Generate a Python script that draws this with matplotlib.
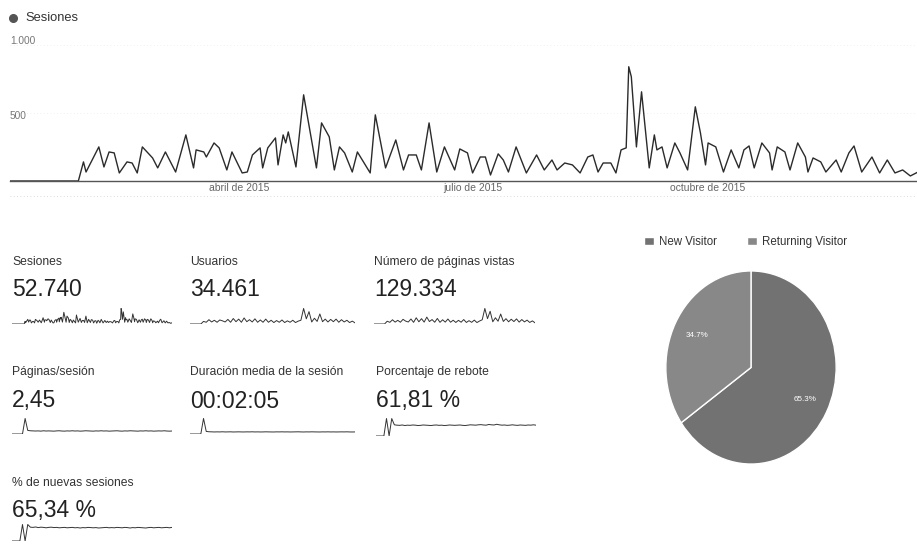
import numpy as np
import pandas as pd
import matplotlib
matplotlib.use('Agg')
import matplotlib.pyplot as plt
from matplotlib.lines import Line2D

plt.rcParams['font.family'] = ['Liberation Sans', 'DejaVu Sans']

# Sesiones diarias 2015 (dia del año, valor)
sess_day = [1, 28, 30, 31, 36, 38, 40, 42, 44, 47, 49, 51, 53, 57, 59, 62, 66, 70, 73, 74,
            77, 78, 81, 83, 86, 88, 92, 94, 96, 99, 100, 102, 105, 106, 108, 109, 110, 113, 116, 121,
            123, 126, 128, 130, 132, 135, 137, 142, 144, 148, 152, 155, 157, 160, 162, 165, 168, 171, 175, 177,
            180, 182, 185, 187, 189, 192, 194, 196, 199, 203, 207, 210, 213, 215, 218, 221, 224, 227, 229, 231,
            233, 236, 238, 240, 242, 243, 244, 246, 248, 251, 253, 254, 256, 258, 261, 263, 266, 269, 271, 273,
            274, 277, 280, 283, 286, 288, 290, 292, 295, 298, 299, 301, 304, 306, 309, 312, 313, 315, 318, 320,
            324, 326, 329, 331, 334, 338, 341, 344, 347, 350, 353, 356]
sess_val = [0, 0, 140, 66, 250, 103, 213, 206, 59, 140, 132, 59, 250, 169, 96, 213, 66, 338, 96, 228,
            213, 176, 279, 243, 81, 213, 59, 66, 191, 243, 96, 243, 316, 118, 338, 279, 360, 103, 632, 96,
            426, 324, 81, 250, 206, 66, 213, 59, 485, 96, 301, 81, 191, 191, 81, 426, 66, 250, 81, 235,
            206, 59, 176, 176, 44, 199, 154, 66, 250, 59, 191, 81, 154, 81, 132, 118, 59, 176, 191, 66,
            132, 132, 59, 228, 243, 838, 765, 250, 654, 96, 338, 228, 250, 96, 279, 206, 81, 544, 353, 118,
            279, 250, 66, 228, 96, 228, 257, 96, 279, 206, 81, 250, 213, 81, 279, 176, 66, 169, 140, 66,
            154, 66, 206, 257, 66, 176, 59, 154, 59, 81, 37, 66]

month_ticks = ['2015-04-01', '2015-07-01', '2015-10-01']
month_labels = ['abril de 2015', 'julio de 2015', 'octubre de 2015']

# sparklines (valores aproximados, ~semanales)
users_spark = [0, 0, 0, 0, 0, 90, 60, 150, 70, 130, 60, 140, 110, 70, 160, 60, 190, 80, 170, 60,
               210, 80, 150, 70, 180, 60, 140, 60, 170, 60, 130, 50, 120, 60, 140, 50, 110, 60, 130, 50,
               100, 130, 540, 180, 430, 70, 200, 90, 350, 80, 170, 70, 160, 80, 170, 60, 150, 70, 130, 50,
               100, 40]
pv_spark = [0, 0, 0, 0, 0, 250, 150, 380, 170, 330, 160, 420, 260, 180, 450, 150, 560, 200, 480, 170,
            620, 220, 400, 160, 500, 150, 380, 170, 450, 160, 340, 140, 330, 160, 400, 140, 300, 150, 350, 130,
            270, 380, 1400, 480, 1150, 200, 560, 250, 900, 230, 480, 200, 430, 220, 460, 170, 400, 190, 350, 140,
            280, 110]
pps_spark = [0, 0, 0, 0, 0, 12.5, 2.9, 2.6, 2.5, 2.4, 2.5, 2.3, 2.6, 2.4, 2.5, 2.4, 2.3, 2.5, 2.6, 2.4,
             2.3, 2.5, 2.4, 2.6, 2.4, 2.5, 2.3, 2.4, 2.6, 2.5, 2.4, 2.3, 2.5, 2.4, 2.6, 2.4, 2.5, 2.3, 2.4, 2.5,
             2.6, 2.4, 2.3, 2.5, 2.4, 2.6, 2.5, 2.4, 2.3, 2.5, 2.4, 2.6, 2.4, 2.5, 2.3, 2.4, 2.5, 2.4, 2.6, 2.4,
             2.3, 2.4]
dur_spark = [0, 0, 0, 0, 0, 900, 150, 130, 125, 118, 124, 120, 128, 119, 122, 126, 117, 121, 125, 120,
             118, 124, 121, 127, 119, 123, 118, 120, 126, 122, 119, 117, 124, 121, 126, 120, 123, 118, 120, 124,
             127, 121, 117, 123, 120, 126, 122, 119, 117, 123, 120, 125, 119, 122, 118, 120, 124, 121, 126, 119,
             117, 120]
bounce_spark = [0, 0, 0, 0, 100, 0, 100, 64, 62, 61, 63, 60, 62, 61, 63, 62, 60, 61, 63, 62,
                61, 60, 62, 63, 61, 62, 60, 61, 63, 62, 61, 62, 63, 61, 60, 62, 64, 63, 62, 64,
                65, 63, 62, 66, 64, 63, 67, 64, 62, 63, 61, 62, 64, 62, 61, 63, 62, 61, 63, 62,
                64, 62]
newsess_spark = [0, 0, 0, 0, 80, 0, 80, 67, 66, 68, 65, 67, 66, 64, 66, 67, 65, 66, 64, 65,
                 66, 64, 65, 66, 64, 65, 63, 65, 64, 66, 65, 64, 65, 63, 64, 65, 66, 64, 65, 64,
                 66, 65, 64, 66, 65, 63, 65, 64, 66, 65, 64, 63, 65, 66, 64, 65, 66, 64, 65, 66,
                 64, 66]

pie_labels = ['New Visitor', 'Returning Visitor']
pie_vals = [65.3, 34.7]

W, H = 917, 544
fig = plt.figure(figsize=(W / 100, H / 100), dpi=100)
fig.patch.set_facecolor('white')


def box(x0, y0, x1, y1):
    # pixel box measured from the top-left corner -> figure fraction
    return [x0 / W, 1 - y1 / H, (x1 - x0) / W, (y1 - y0) / H]


def fy(y):
    return 1 - y / H


# ---- main line chart ----
t0 = pd.Timestamp('2015-01-01')
dates = t0 + pd.to_timedelta(np.array(sess_day) - 1, unit='D')

ax = fig.add_axes(box(10, 31, 917, 181))
ax.plot(dates, sess_val, color='#2b2b2b', lw=1.0)
ax.set_xlim(t0 + pd.Timedelta(days=0.3), t0 + pd.Timedelta(days=354.6))
ax.set_ylim(0, 1100)
for s in ['top', 'right', 'left']:
    ax.spines[s].set_visible(False)
ax.spines['bottom'].set_color('#555555')
ax.spines['bottom'].set_linewidth(1.0)
ax.set_yticks([])
for v in [500, 1000]:
    ax.axhline(v, color='#ececec', lw=0.6, ls=(0, (1, 3)), zorder=0)
ax.text(0.0, 1030, '1.000', transform=ax.get_yaxis_transform(), fontsize=7.3,
        color='#777777', va='center', ha='left')
ax.text(0.0, 480, '500', transform=ax.get_yaxis_transform(), fontsize=7.3,
        color='#777777', va='center', ha='left')
ax.set_xticks(pd.to_datetime(month_ticks))
ax.set_xticklabels(month_labels, fontsize=7.5, color='#666666')
ax.tick_params(axis='x', length=0, pad=1.5)

fig.add_artist(Line2D([10 / W, 1], [fy(196), fy(196)], color='#cfcfcf', lw=0.6,
                      ls=(0, (1, 3))))

# legend of the line chart
fig.add_artist(Line2D([13 / W], [fy(18)], marker='o', markersize=5.5, color='#555555',
                      markeredgecolor='#555555'))
fig.text(25 / W, fy(18), 'Sesiones', fontsize=9.3, color='#333333', va='center', ha='left')

# ---- scorecards ----
cards = [
    ('Sesiones', '52.740', sess_val, 12, 172, 262, 290, 308, 324, True),
    ('Usuarios', '34.461', users_spark, 190, 355, 262, 290, 308, 324, False),
    ('Número de páginas vistas', '129.334', pv_spark, 374, 535, 262, 290, 308, 324, False),
    ('Páginas/sesión', '2,45', pps_spark, 12, 172, 372, 401, 418, 434, False),
    ('Duración media de la sesión', '00:02:05', dur_spark, 190, 355, 372, 401, 418, 434, False),
    ('Porcentaje de rebote', '61,81 %', bounce_spark, 376, 536, 372, 401, 418, 436, False),
    ('% de nuevas sesiones', '65,34 %', newsess_spark, 12, 172, 483, 511, 524, 541, False),
]

for title, value, spark, x0, x1, ty, vy, sy0, sy1, use_days in cards:
    fig.text(x0 / W, fy(ty), title, fontsize=8.7, color='#333333', va='center', ha='left')
    fig.text(x0 / W, fy(vy), value, fontsize=16.5, color='#222222', va='center', ha='left')
    sax = fig.add_axes(box(x0, sy0, x1, sy1))
    if use_days:
        sax.plot(sess_day, spark, color='#333333', lw=0.7)
    else:
        sx = np.linspace(1, 356, len(spark))
        sax.plot(sx, spark, color='#333333', lw=0.7)
    sax.set_xlim(1, 356)
    top = max(spark)
    if title.startswith('Porcentaje'):
        top = 100
    sax.set_ylim(0, top * 1.03)
    sax.axis('off')

# ---- pie ----
pax = fig.add_axes(box(665, 270, 837, 465))
wedges, texts, autotexts = pax.pie(pie_vals, colors=['#727272', '#888888'], startangle=90,
                                   counterclock=False, autopct='%1.1f%%', pctdistance=0.72,
                                   wedgeprops=dict(edgecolor='white', linewidth=1.0),
                                   textprops=dict(color='white', fontsize=5.8))
pax.set_aspect('auto')
pax.set_xlim(-1.01, 1.01)
pax.set_ylim(-1.01, 1.01)

fig.legend(wedges, pie_labels, loc='center', bbox_to_anchor=(746 / W, fy(242)), ncol=2,
           frameon=False, fontsize=8.3, handlelength=0.8, handleheight=0.8, handletextpad=0.5,
           columnspacing=2.6, labelcolor='#333333')

fig.savefig('out.png', dpi=100)
